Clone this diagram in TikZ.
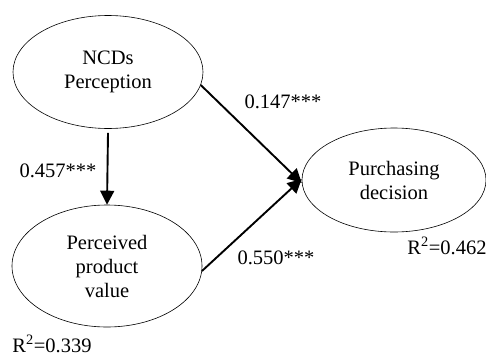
\documentclass[tikz,border=0pt]{standalone}
\usepackage{fontspec}
\setmainfont{Liberation Serif}
\usetikzlibrary{arrows.meta,shapes.geometric}
\begin{document}
\begin{tikzpicture}[x=1pt, y=-1pt,
        construct/.style={ellipse, draw, line width=0.6pt, inner sep=0pt, align=center,
            font=\fontsize{20.5}{24}\selectfont},
        path/.style={line width=1.9pt, -{Triangle[length=14pt,width=14pt]}},
        coef/.style={font=\fontsize{20.5}{24}\selectfont, inner sep=0pt}]
            \useasboundingbox (0, 0) rectangle (486, 356);

            \node[construct, minimum width=190pt, minimum height=113pt] (ncd) at (108, 72) {NCDs\\Perception};
            \node[construct, minimum width=190pt, minimum height=122pt] (ppv) at (107, 266) {Perceived\\product\\value};
            \node[construct, minimum width=184pt, minimum height=104pt] (pd) at (394, 180) {Purchasing\\decision};

            \node[coef] (b1) at (58, 171) {0.457***};
            \node[coef] (b2) at (283, 102) {0.147***};
            \node[coef] (b3) at (276, 258) {0.550***};
            \node[coef] (r1) at (447, 246) {R\textsuperscript{2}=0.462};
            \node[coef] (r2) at (52, 344) {R\textsuperscript{2}=0.339};

            \draw[path] ([yshift=-4pt]ncd.south) -- (ppv.north);
            \draw[path] (ncd.-8) -- ([yshift=-3pt]pd.west);
            \draw[path] (ppv.-3) -- ([yshift=1pt]pd.west);
        \end{tikzpicture}
\end{document}
